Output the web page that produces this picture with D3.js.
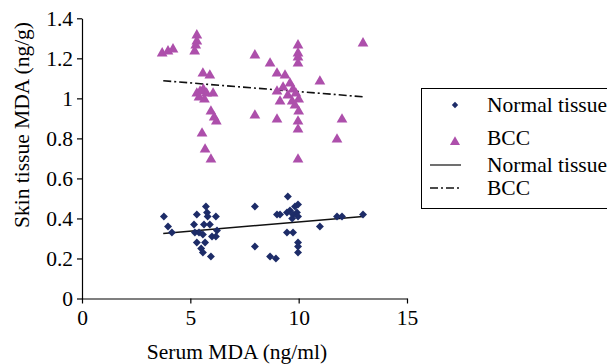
<!DOCTYPE html>
<html>
<head>
<meta charset="utf-8">
<script src="https://cdn.jsdelivr.net/npm/d3@7/dist/d3.min.js"></script>
<style>
  body { margin: 0; background: #fff; }
  svg { display: block; font-family: "Liberation Serif", "Times New Roman", serif; }
</style>
</head>
<body>
<svg width="607" height="364"></svg>
<script>
// values
const normalX = [3.78, 3.97, 4.15, 5.3, 5.72, 5.77, 5.8, 6.18, 5.17, 5.63, 5.9, 6.23, 5.21, 5.4, 5.58, 6.0, 6.18, 5.3, 5.68, 5.5, 5.58, 5.95,
  7.98, 7.98, 9.5, 9.0, 9.14, 9.46, 9.6, 9.83, 9.97, 9.74, 9.92, 9.97, 9.7, 9.46, 9.74, 9.97, 9.97, 9.97, 8.68, 8.95, 10.98, 11.77, 12.0, 12.97];
const normalY = [0.41, 0.36, 0.33, 0.42, 0.46, 0.43, 0.41, 0.41, 0.37, 0.37, 0.37, 0.34, 0.33, 0.33, 0.32, 0.31, 0.31, 0.28, 0.28, 0.25, 0.23, 0.21,
  0.46, 0.26, 0.51, 0.42, 0.42, 0.43, 0.44, 0.46, 0.47, 0.42, 0.43, 0.41, 0.40, 0.33, 0.33, 0.28, 0.26, 0.23, 0.21, 0.20, 0.36, 0.41, 0.41, 0.42];

const bccX = [3.7, 3.97, 4.2, 5.3, 5.3, 5.25, 5.2, 5.58, 5.9, 5.3, 5.45, 5.6, 5.75, 6.05, 5.4, 5.65, 5.95, 6.1, 6.2, 5.54, 5.68, 5.95,
  7.98, 8.68, 9.0, 9.37, 9.97, 9.97, 9.97, 9.97, 9.28, 9.6, 9.74, 9.5, 9.7, 9.87, 10.0, 9.83, 10.0, 9.14, 9.0, 7.98, 9.0, 9.97, 9.97, 9.97, 12.97, 10.98, 12.0, 11.77];
const bccY = [1.23, 1.24, 1.25, 1.32, 1.29, 1.27, 1.24, 1.13, 1.12, 1.03, 1.04, 1.05, 1.03, 1.03, 1.01, 1.0, 0.94, 0.91, 0.89, 0.83, 0.75, 0.70,
  1.22, 1.18, 1.13, 1.12, 1.27, 1.23, 1.21, 1.18, 1.06, 1.08, 1.05, 1.02, 0.99, 1.03, 1.0, 0.97, 0.94, 0.99, 1.04, 0.92, 0.90, 0.89, 0.85, 0.70, 1.28, 1.09, 0.90, 0.80];

// trend lines (end points as drawn)
const normalTrendX = [3.75, 12.97];
const normalTrendY = [0.325, 0.41];
const bccTrendX = [3.75, 12.97];
const bccTrendY = [1.088, 1.008];

const xTicks = [0, 5, 10, 15];
const yTicks = [0, 0.2, 0.4, 0.6, 0.8, 1, 1.2, 1.4];
const legendLabels = ['Normal tissue', 'BCC', 'Normal tissue', 'BCC'];

const navy = '#1d2c68';
const magenta = '#ad4fab';
const fontSize = '21.5px';

const svg = d3.select('svg');

const x = d3.scaleLinear().domain([0, 15]).range([82, 407]);
const y = d3.scaleLinear().domain([0, 1.4]).range([298.5, 18.3]);

// axes
const xAxis = svg.append('g')
  .attr('transform', `translate(0,${y(0)})`)
  .call(d3.axisBottom(x).tickValues(xTicks).tickSize(5).tickPadding(6).tickSizeOuter(0));
const yAxis = svg.append('g')
  .attr('transform', `translate(${x(0)},0)`)
  .call(d3.axisLeft(y).tickValues(yTicks).tickFormat(d3.format('')).tickSize(5).tickPadding(4).tickSizeOuter(0));

[xAxis, yAxis].forEach(a => {
  a.attr('font-family', null).attr('font-size', null);
  a.select('.domain').attr('stroke', '#000').attr('stroke-width', 1.2);
  a.selectAll('.tick line').attr('stroke', '#000').attr('stroke-width', 1.2);
  a.selectAll('.tick text').attr('fill', '#000').style('font-size', fontSize);
});

svg.append('text')
  .attr('transform', 'translate(29,125) rotate(-90)')
  .attr('text-anchor', 'middle')
  .style('font-size', fontSize)
  .text('Skin tissue MDA (ng/g)');

svg.append('text')
  .attr('x', 237)
  .attr('y', 359)
  .attr('text-anchor', 'middle')
  .style('font-size', fontSize)
  .text('Serum MDA (ng/ml)');

// trend lines
const line = d3.line().x(d => x(d[0])).y(d => y(d[1]));
svg.append('path')
  .datum(d3.zip(normalTrendX, normalTrendY))
  .attr('d', line)
  .attr('fill', 'none').attr('stroke', '#111').attr('stroke-width', 1.4);
svg.append('path')
  .datum(d3.zip(bccTrendX, bccTrendY))
  .attr('d', line)
  .attr('fill', 'none').attr('stroke', '#111').attr('stroke-width', 1.6)
  .attr('stroke-dasharray', '8,3,2,3');

// markers
const diamond = d3.symbol().type(d3.symbolDiamond2).size(40);
const triangle = d3.symbol().type(d3.symbolTriangle).size(50);

svg.append('g').selectAll('path')
  .data(d3.zip(normalX, normalY))
  .enter().append('path')
  .attr('d', diamond)
  .attr('transform', d => `translate(${x(d[0])},${y(d[1])})`)
  .attr('fill', navy);

svg.append('g').selectAll('path')
  .data(d3.zip(bccX, bccY))
  .enter().append('path')
  .attr('d', triangle)
  .attr('transform', d => `translate(${x(d[0])},${y(d[1]) + 1})`)
  .attr('fill', magenta);

// legend
const lg = svg.append('g');
lg.append('rect')
  .attr('x', 421.5).attr('y', 88.5).attr('width', 200).attr('height', 120)
  .attr('fill', '#fff').attr('stroke', '#000').attr('stroke-width', 1);

const rowY = [105, 138, 165, 188];
lg.append('path').attr('d', d3.symbol().type(d3.symbolDiamond2).size(26))
  .attr('transform', `translate(455,${rowY[0]})`).attr('fill', navy);
lg.append('path').attr('d', d3.symbol().type(d3.symbolTriangle).size(44))
  .attr('transform', `translate(455,${rowY[1] + 4})`).attr('fill', magenta);
lg.append('line').attr('x1', 430).attr('x2', 461).attr('y1', rowY[2]).attr('y2', rowY[2])
  .attr('stroke', '#111').attr('stroke-width', 1.2);
lg.append('line').attr('x1', 430).attr('x2', 461).attr('y1', rowY[3]).attr('y2', rowY[3])
  .attr('stroke', '#111').attr('stroke-width', 1.6).attr('stroke-dasharray', '8,3,2,3');

lg.selectAll('text.lab')
  .data(legendLabels)
  .enter().append('text')
  .attr('class', 'lab')
  .attr('x', 487)
  .attr('y', (d, i) => rowY[i] + 7)
  .style('font-size', fontSize)
  .text(d => d);
</script>
</body>
</html>
